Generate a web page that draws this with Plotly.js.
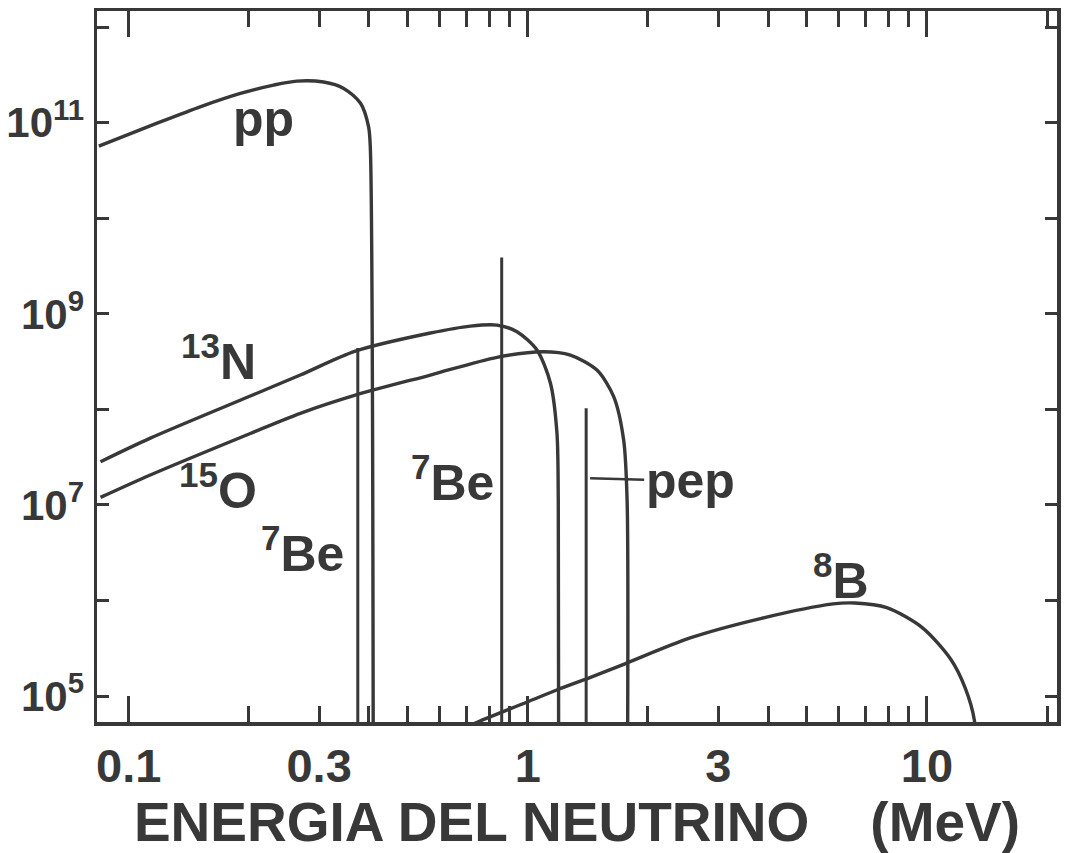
<!DOCTYPE html>
<html>
<head>
<meta charset="utf-8">
<script src="https://cdn.plot.ly/plotly-3.0.1.min.js"></script>
<style>
html,body{margin:0;padding:0;background:#ffffff;}
#chart{width:1073px;height:853px;}
</style>
</head>
<body>
<div id="chart"></div>
<script>
// ---- data (energy in MeV, flux) ----
const ppEnergy = [0.0842, 0.1178, 0.151, 0.1905, 0.2307, 0.2636, 0.3078, 0.3457, 0.381, 0.399, 0.403, 0.41];
const ppFlux   = [5.7e10, 9.9e10, 1.47e11, 2.03e11, 2.48e11, 2.73e11, 2.67e11, 2.29e11, 1.6e11, 9.1e10, 5.6e10, 1e4];

const n13Energy = [0.085, 0.1133, 0.2017, 0.2692, 0.3697, 0.570, 0.718, 0.837, 0.9395, 1.054, 1.139, 1.183, 1.192, 1.195];
const n13Flux   = [2.83e7, 5.0e7, 1.38e8, 2.29e8, 4.07e8, 6.3e8, 7.45e8, 7.63e8, 6.5e8, 4.18e8, 1.89e8, 5.65e7, 1.12e7, 1e4];

const o15Energy = [0.085, 0.1133, 0.2017, 0.2692, 0.3697, 0.570, 0.837, 1.095, 1.278, 1.490, 1.641, 1.738, 1.773, 1.776];
const o15Flux   = [1.2e7, 2.06e7, 5.6e7, 9.1e7, 1.41e8, 2.29e8, 3.51e8, 4.01e8, 3.7e8, 2.58e8, 1.36e8, 4.78e7, 1.12e7, 1e4];

const b8Energy = [0.70, 0.749, 1.01, 1.19, 1.42, 1.745, 2.55, 3.85, 5.82, 6.59, 7.93, 9.73, 11.48, 12.47, 13.14, 13.3];
const b8Flux   = [4.7e4, 5.35e4, 8.87e4, 1.17e5, 1.54e5, 2.16e5, 4.05e5, 6.5e5, 9.2e5, 9.4e5, 8.4e5, 5.2e5, 2.41e5, 1.21e5, 5.6e4, 1e4];

// monochromatic lines
const lineNames  = ['7Be', '7Be', 'pep'];
const lineEnergy = [0.375, 0.86, 1.40];
const lineFlux   = [4.4e8, 3.9e9, 1.03e8];
const lineBase   = 1e4;

// axis ticks
const xTickVals  = [0.1, 0.3, 1, 3, 10];
const xTickText  = ['0.1', '0.3', '1', '3', '10'];
const xLongTicks = [0.1, 1, 10];
const xMinorVals = [0.2, 0.4, 0.5, 0.6, 0.7, 0.8, 0.9, 2, 4, 5, 6, 7, 8, 9, 20];
const yTickVals  = [1e5, 1e7, 1e9, 1e11];
const yTickExp   = ['5', '7', '9', '11'];
const yMinorVals = [1e6, 1e8, 1e10, 1e12];

// labels
const labelText   = ['pp', '<sup>13</sup>N', '<sup>15</sup>O', '<sup>7</sup>Be', '<sup>7</sup>Be', '<sup>8</sup>B'];
const labelEnergy = [0.2175, 0.1677, 0.1677, 0.2723, 0.647, 6.10];
const labelFlux   = [1.10e11, 3.44e8, 1.54e7, 3.37e6, 1.87e7, 1.75e6];
const pepLabelFlux = 1.91e7;

// ---- drawing ----
const INK = '#383838';
const FONT = 'Liberation Sans, Arial, Helvetica, sans-serif';

function curve(x, y) {
  return {x: x, y: y, type: 'scatter', mode: 'lines', xaxis: 'x', yaxis: 'y',
          line: {color: INK, width: 3.4, shape: 'spline', smoothing: 0.8}, hoverinfo: 'skip'};
}

const traces = [
  curve(ppEnergy, ppFlux),
  curve(n13Energy, n13Flux),
  curve(o15Energy, o15Flux),
  curve(b8Energy, b8Flux)
];
lineEnergy.forEach((e, i) => {
  traces.push({x: [e, e], y: [lineBase, lineFlux[i]], type: 'scatter', mode: 'lines',
    name: lineNames[i], line: {color: INK, width: 3}, hoverinfo: 'skip'});
});
// helper trace for the long-tick axis
traces.push({x: [xLongTicks[0]], y: [lineBase], xaxis: 'x2', yaxis: 'y', type: 'scatter',
  mode: 'markers', marker: {opacity: 0}, hoverinfo: 'skip'});

const xRange = [Math.log10(0.0833), Math.log10(21.17)];
const yRange = [4.728, 12.17];

const annotations = labelText.map((t, i) => ({
  x: Math.log10(labelEnergy[i]), y: Math.log10(labelFlux[i]), xref: 'x', yref: 'y',
  text: t, showarrow: false, xanchor: 'center', yanchor: 'middle',
  font: {family: FONT, size: 50, color: INK, weight: 'bold'}
}));
annotations.push({
  x: Math.log10(lineEnergy[2]), y: Math.log10(pepLabelFlux), xref: 'x', yref: 'y',
  text: 'pep', showarrow: true, arrowhead: 0, arrowwidth: 2.5, arrowcolor: INK,
  ax: 104, ay: 3, standoff: 4, startstandoff: 0,
  font: {family: FONT, size: 50, color: INK, weight: 'bold'}
});

const layout = {
  width: 1073, height: 853,
  margin: {l: 97, r: 16, t: 11, b: 131},
  paper_bgcolor: '#ffffff', plot_bgcolor: '#ffffff',
  showlegend: false, hovermode: false,
  xaxis: {
    type: 'log', range: xRange, fixedrange: true,
    tickmode: 'array', tickvals: xTickVals, ticktext: xTickText,
    ticks: 'inside', ticklen: 16, tickwidth: 3, tickcolor: INK,
    tickfont: {family: FONT, size: 47, color: INK, weight: 'bold'},
    showline: true, linewidth: 3.5, linecolor: INK, mirror: 'ticks',
    showgrid: false, zeroline: false,
    minor: {tickmode: 'array', tickvals: xMinorVals, ticks: 'inside', ticklen: 16,
            tickwidth: 3, tickcolor: INK, showgrid: false},
    title: {text: 'ENERGIA DEL NEUTRINO\u00a0\u00a0\u00a0\u00a0(MeV)', standoff: 16,
            font: {family: FONT, size: 55, color: INK, weight: 'bold'}}
  },
  xaxis2: {
    type: 'log', range: xRange, overlaying: 'x', anchor: 'y', side: 'bottom', fixedrange: true,
    tickmode: 'array', tickvals: xLongTicks, showticklabels: false,
    ticks: 'inside', ticklen: 26, tickwidth: 3, tickcolor: INK,
    showline: false, mirror: 'ticks', showgrid: false, zeroline: false
  },
  yaxis: {
    type: 'log', range: yRange, fixedrange: true,
    tickmode: 'array', tickvals: yTickVals,
    ticktext: yTickExp.map(e => '10<sup>' + e + '</sup>'),
    ticks: 'inside', ticklen: 12, tickwidth: 3, tickcolor: INK,
    tickfont: {family: FONT, size: 42, color: INK, weight: 'bold'},
    ticklabelstandoff: 1,
    showline: true, linewidth: 3.5, linecolor: INK, mirror: 'ticks',
    showgrid: false, zeroline: false,
    minor: {tickmode: 'array', tickvals: yMinorVals, ticks: 'inside', ticklen: 12,
            tickwidth: 3, tickcolor: INK, showgrid: false}
  },
  annotations: annotations
};

Plotly.newPlot('chart', traces, layout, {staticPlot: true, displayModeBar: false});
</script>
</body>
</html>
